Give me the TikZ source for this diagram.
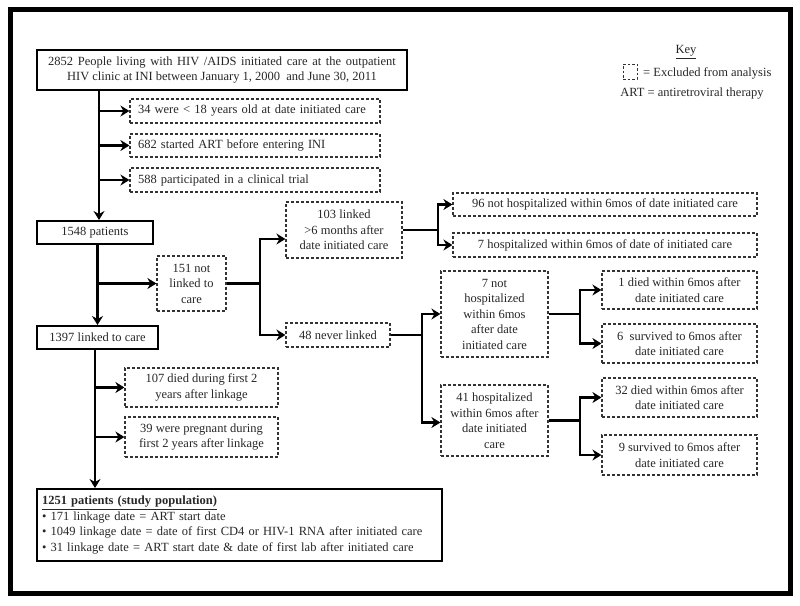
\documentclass[tikz,border=0pt]{standalone}
\usepackage{fontspec}
\setmainfont{Liberation Serif}
\usetikzlibrary{arrows.meta}
\begin{document}
\begin{tikzpicture}[x=1pt,y=-1pt,
  txt/.style={font=\fontsize{12.5}{15.5}\selectfont, text=black!85},
  solidbox/.style={draw, line width=2pt, txt, align=center, inner sep=0pt},
  exbox/.style={draw=black!80, dash pattern=on 3pt off 2pt, line width=1.2pt, txt, align=center, inner sep=0pt},
  exleft/.style={exbox, align=left, inner xsep=8pt, text width=234pt, minimum height=24pt},
  conn/.style={line width=2.5pt},
  arr/.style={conn, -{Stealth[length=9pt,width=11pt,inset=3pt]}}
]
\useasboundingbox (0,0) rectangle (800,605);
\draw[line width=5pt] (10,9) rectangle (790,593);

% main column
\node[solidbox, minimum width=370pt, minimum height=40pt] (top) at (222,70)
  {\spaceskip=0.37em 2852 People living with HIV /AIDS initiated care at the outpatient\\HIV clinic at INI between January 1, 2000 \ and June 30, 2011};
\node[exleft] (ex1) at (255,111) {34 were {<} 18 years old at date initiated care};
\node[exleft, minimum height=23pt] (ex2) at (255,145.5) {682 started ART before entering INI};
\node[exleft] (ex3) at (255,180) {588 participated in a clinical trial};
\node[solidbox, minimum width=116pt, minimum height=23pt] (p1548) at (95,232.5) {1548 patients};
\node[exbox, minimum width=69pt, minimum height=55pt] (n151) at (191.5,283.5) {151 not\\linked to\\care};
\node[solidbox, minimum width=121pt, minimum height=23pt] (p1397) at (97.5,337.5) {1397 linked to care};
\node[exbox, minimum width=153pt, minimum height=39pt] (n107) at (201.5,387.5) {107 died during first 2\\years after linkage};
\node[exbox, minimum width=153pt, minimum height=40pt] (n39) at (201.5,437) {39 were pregnant during\\first 2 years after linkage};
\node[solidbox, minimum width=405pt, minimum height=72pt, align=left, text width=395pt, inner xsep=5pt] (p1251) at (239.5,525)
  {\underline{\textbf{1251 patients (study population)}}\\
   \textbullet\ 171 linkage date = ART start date\\
   \textbullet\ 1049 linkage date = date of first CD4 or HIV-1 RNA after initiated care\\
   \textbullet\ 31 linkage date = ART start date \& date of first lab after initiated care};

% second level
\node[exbox, minimum width=116pt, minimum height=56pt] (n103) at (344,230) {103 linked\\{>}6 months after\\date initiated care};
\node[exbox, minimum width=104pt, minimum height=24pt] (n48) at (338,335) {48 never linked};
\node[exbox, minimum width=304pt, minimum height=23pt] (n96) at (605,204.5) {96 not hospitalized within 6mos of date initiated care};
\node[exbox, minimum width=304pt, minimum height=24pt] (n7h) at (605,245) {7 hospitalized within 6mos of date of initiated care};
\node[exbox, minimum width=107pt, minimum height=86pt] (n7n) at (494.5,314) {7 not\\hospitalized\\within 6mos\\after date\\initiated care};
\node[exbox, minimum width=107pt, minimum height=71pt] (n41) at (494.5,420.5) {41 hospitalized\\within 6mos after\\date initiated\\care};
\node[exbox, minimum width=155pt, minimum height=38pt] (n1d) at (679.5,290) {1 died within 6mos after\\date initiated care};
\node[exbox, minimum width=155pt, minimum height=39pt] (n6s) at (679.5,343.5) {6 \ survived to 6mos after\\date initiated care};
\node[exbox, minimum width=155pt, minimum height=39pt] (n32) at (679.5,397.5) {32 died within 6mos after\\date initiated care};
\node[exbox, minimum width=155pt, minimum height=40pt] (n9s) at (679.5,455) {9 survived to 6mos after\\date initiated care};

% key
\node[txt, inner sep=0pt] (keyt) at (686,52) {\underline{Key}};
\node[exbox, line width=1pt, dash pattern=on 2.5pt off 2pt, minimum width=14pt, minimum height=15pt] (keybox) at (630,71.5) {};
\node[txt, inner sep=0pt, anchor=west] (keyex) at (643,73) {= Excluded from analysis};
\node[txt, inner sep=0pt] (keyart) at (692,94) {ART = antiretroviral therapy};

% connectors
\draw[arr] (top.south -| 99,0) -- (p1548.north -| 99,0);
\draw[arr] (ex1.west -| 99,0) -- (ex1.west);
\draw[arr] (ex2.west -| 99,0) -- (ex2.west);
\draw[arr] (ex3.west -| 99,0) -- (ex3.west);

\draw[arr] (p1397.north |- p1548.south) -- (p1397.north);
\draw[arr] (n151.west -| p1397.north) -- (n151.west);

\draw[conn] (n151.east) -- (260,283.5) coordinate (s1);
\draw[arr] (s1) |- ([yshift=-9pt]n103.west);
\draw[arr] (s1) |- (n48.west);

\draw[conn] (n103.east) -- (438,230) coordinate (s2);
\draw[arr] (s2) |- (n96.west);
\draw[arr] (s2) |- (n7h.west);

\draw[conn] (n48.east) -- (422,335) coordinate (s3);
\draw[arr] (s3) |- (n7n.west);
\draw[arr] (s3) |- ([yshift=-2pt]n41.west);

\draw[conn] (n7n.east) -- (580,314) coordinate (s4);
\draw[arr] (s4) |- (n1d.west);
\draw[arr] (s4) |- (n6s.west);

\draw[conn] (n41.east) -- (580,420.5) coordinate (s5);
\draw[arr] (s5) |- (n32.west);
\draw[arr] (s5) |- (n9s.west);

\draw[arr] (p1397.south -| 95,0) -- (p1251.north -| 95,0);
\draw[arr] (n107.west -| 95,0) -- (n107.west);
\draw[arr] (n39.west -| 95,0) -- (n39.west);
\end{tikzpicture}
\end{document}
